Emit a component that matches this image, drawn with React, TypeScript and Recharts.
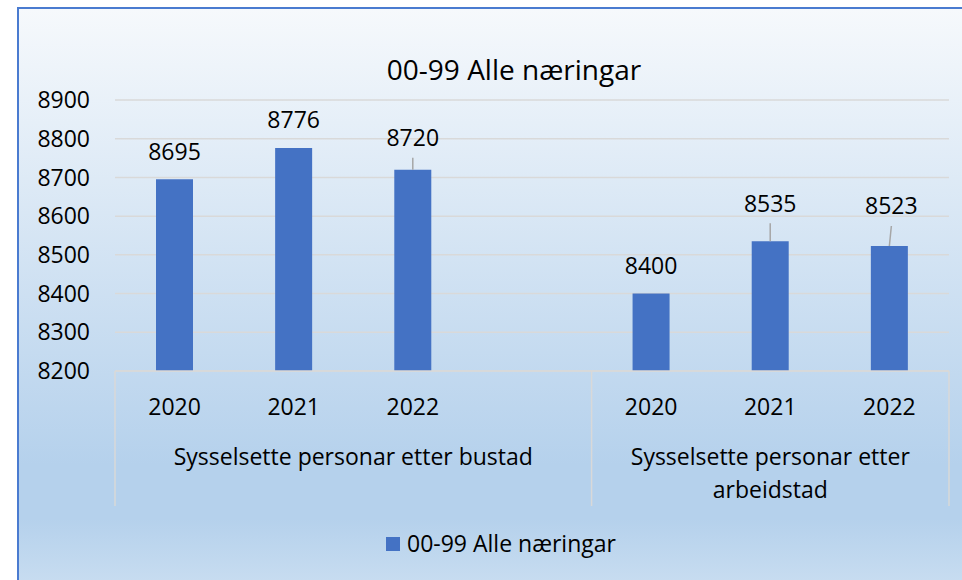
import { BarChart, Bar, XAxis, YAxis, CartesianGrid, Legend, LabelList } from 'recharts'

const SERIES_NAME = '00-99 Alle næringar'
const YEARS = ['2020', '2021', '2022', '', '2020', '2021', '2022']
const VALUES: (number | null)[] = [8695, 8776, 8720, null, 8400, 8535, 8523]
const Y_TICKS = [8200, 8300, 8400, 8500, 8600, 8700, 8800, 8900]
const GROUPS = [
  { lines: ['Sysselsette personar etter bustad'], start: 0, span: 4 },
  { lines: ['Sysselsette personar etter', 'arbeidstad'], start: 4, span: 3 }
]

const data = YEARS.map((year, i) => ({ year, value: VALUES[i] }))
// LabelList skips empty slots, so map its index back to the category index
const LABELED = VALUES.map((v, i) => (v == null ? -1 : i)).filter(i => i >= 0)

const W = 962
const H = 580
const MARGIN = { top: 100, right: 13, bottom: 59, left: 35 }
const Y_W = 80
const BAND = (W - MARGIN.left - Y_W - MARGIN.right) / YEARS.length
const FONT = '"Open Sans", sans-serif'
const BLUE = '#4472c4'
const GRID = '#d9d9d9'

// labels Excel moved by hand (px), drawn with a leader line
const LABEL_NUDGE: Record<number, { dx: number; dy: number }> = {
  2: { dx: 0, dy: -4 },
  5: { dx: 0, dy: -10 },
  6: { dx: 2, dy: -12 }
}

function BarValueLabel(props: any) {
  const { x, y, width, value, index } = props
  if (value == null) return null
  const cx = Number(x) + Number(width) / 2
  const nudge = LABEL_NUDGE[LABELED[index]]
  const lx = cx + (nudge ? nudge.dx : 0)
  const ly = Number(y) - 28 + (nudge ? nudge.dy : 0)
  return (
    <g>
      {nudge && <line x1={lx} y1={ly + 20} x2={cx} y2={Number(y)} stroke="#a6a6a6" strokeWidth={1.5} />}
      <text x={lx} y={ly} dy="0.36em" textAnchor="middle" fontSize={23} fontFamily={FONT} fill="#000">
        {value}
      </text>
    </g>
  )
}

function CategoryTick(props: any) {
  const { x, y, payload } = props
  const index = payload.index
  const last = GROUPS[GROUPS.length - 1]
  const parts: any[] = []
  if (payload.value) {
    parts.push(
      <text key="yr" x={x} y={y + 36} dy="0.36em" textAnchor="middle" fontSize={23} fontFamily={FONT} fill="#000">
        {payload.value}
      </text>
    )
  }
  GROUPS.forEach((g, gi) => {
    if (index === g.start) {
      const left = x - BAND / 2
      parts.push(<line key={'s' + gi} x1={left} y1={y} x2={left} y2={y + 135} stroke={GRID} strokeWidth={1.5} />)
      const mid = left + (g.span * BAND) / 2
      g.lines.forEach((ln, li) => {
        parts.push(
          <text key={'g' + gi + li} x={mid} y={y + 86 + li * 33} dy="0.36em" textAnchor="middle" fontSize={23} fontFamily={FONT} fill="#000">
            {ln}
          </text>
        )
      })
    }
  })
  if (index === last.start + last.span - 1) {
    const right = x + BAND / 2
    parts.push(<line key="end" x1={right} y1={y} x2={right} y2={y + 135} stroke={GRID} strokeWidth={1.5} />)
  }
  return <g>{parts}</g>
}

function LegendContent() {
  return (
    <div style={{ display: 'flex', alignItems: 'center', fontFamily: FONT, fontSize: 23, lineHeight: '23px', color: '#000', whiteSpace: 'nowrap' }}>
      <span style={{ width: 14, height: 14, background: BLUE, marginRight: 7, display: 'inline-block' }} />
      <span>{SERIES_NAME}</span>
    </div>
  )
}

export default function App() {
  return (
    <div style={{ position: 'absolute', left: 0, top: 0, width: W, height: H, overflow: 'hidden', background: '#fff' }}>
      <div
        style={{
          position: 'absolute',
          left: 17,
          top: 7,
          width: 1000,
          height: 600,
          borderTop: '2px solid #4a7bd0',
          borderLeft: '2px solid #4a7bd0',
          background: 'linear-gradient(to bottom, #f6f9fc 0%, #b5d1ec 76%, #b5d1ec 85%, #cadef1 97%)'
        }}
      />
      <div
        style={{
          position: 'absolute',
          left: 214,
          top: 55,
          width: 600,
          textAlign: 'center',
          fontFamily: FONT,
          fontSize: 28,
          lineHeight: '28px',
          color: '#000'
        }}
      >
        {SERIES_NAME}
      </div>
      <div style={{ position: 'absolute', left: 0, top: 0 }}>
        <BarChart width={W} height={H} data={data} margin={MARGIN}>
          <CartesianGrid vertical={false} stroke={GRID} strokeWidth={1.5} />
          <XAxis
            dataKey="year"
            height={150}
            interval={0}
            tickLine={false}
            tickSize={0}
            tickMargin={0}
            axisLine={{ stroke: GRID, strokeWidth: 1.5 }}
            tick={<CategoryTick />}
          />
          <YAxis
            width={Y_W}
            domain={[8200, 8900]}
            ticks={Y_TICKS}
            interval={0}
            axisLine={false}
            tickLine={false}
            tickSize={0}
            tickMargin={25}
            tick={{ fill: '#000', fontSize: 23, fontFamily: FONT }}
          />
          <Legend
            layout="horizontal"
            verticalAlign="middle"
            content={<LegendContent />}
            wrapperStyle={{ left: 386, top: 532, width: 'auto', height: 'auto' }}
          />
          <Bar dataKey="value" name={SERIES_NAME} fill={BLUE} barSize={37} isAnimationActive={false}>
            <LabelList dataKey="value" content={<BarValueLabel />} />
          </Bar>
        </BarChart>
      </div>
    </div>
  )
}
